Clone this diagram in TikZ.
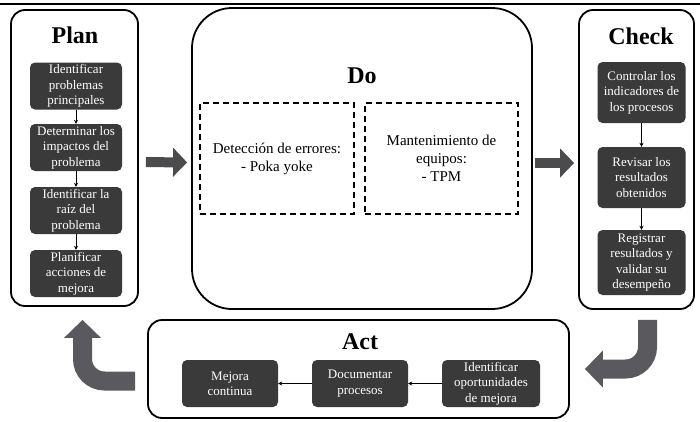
\documentclass[tikz,border=0pt]{standalone}
\usepackage{fontspec}
\setmainfont{Liberation Serif}
\usetikzlibrary{arrows.meta}
\definecolor{boxgray}{HTML}{3A3A3A}
\definecolor{arrowgray}{HTML}{4B4B4D}
\definecolor{bentgray}{HTML}{5A5A5E}

\begin{document}
\begin{tikzpicture}[x=1pt, y=-1pt,
                    phase/.style={draw, line width=1.8pt, rounded corners=14pt},
                    phasetitle/.style={font=\fontsize{24}{28}\selectfont\bfseries},
                    stepbox/.style={fill=boxgray, text=white, rounded corners=5pt, align=center,
                                    inner sep=1pt, font=\fontsize{13}{15.5}\selectfont},
                    dashbox/.style={draw, line width=1.3pt, dash pattern=on 6pt off 4pt,
                                    align=center, font=\fontsize{15}{18}\selectfont},
                    link/.style={line width=0.9pt, -{Stealth[length=4pt,width=4pt]}},
                    bigarrow/.style={arrowgray, line width=10pt,
                                     -{Triangle[length=14pt,width=29pt,line width=0pt]}},
                    bentarrow/.style={bentgray, line width=19pt, rounded corners=22pt,
                                      -{Triangle[length=18pt,width=37pt,line width=0pt]}}]
                \useasboundingbox (0,0) rectangle (700,421);
                \draw [line width=1.2pt] (0,4) -- (700,4);

                \node (plan) [phase, minimum width=127pt, minimum height=296pt] at (74.5,158) {};
                \node (do) [phase, rounded corners=40pt, minimum width=340pt, minimum height=301pt] at (362,158.5) {};
                \node (check) [phase, minimum width=115pt, minimum height=299pt] at (636.5,159.5) {};
                \node (act) [phase, minimum width=421pt, minimum height=98pt] at (358.5,369) {};

                \node (plantitle) [phasetitle] at (75,35) {Plan};
                \node (dotitle) [phasetitle] at (362,76) {Do};
                \node (checktitle) [phasetitle] at (641,36) {Check};
                \node (acttitle) [phasetitle] at (360,342) {Act};

                \node (p1) [stepbox, minimum width=92pt, minimum height=47pt] at (76,86) {Identificar\\problemas\\principales};
                \node (p2) [stepbox, minimum width=92pt, minimum height=47pt] at (76,147.5) {Determinar los\\impactos del\\problema};
                \node (p3) [stepbox, minimum width=92pt, minimum height=47pt] at (76,210.5) {Identificar la\\raíz del\\problema};
                \node (p4) [stepbox, minimum width=92pt, minimum height=47pt] at (76,273.5) {Planificar\\acciones de\\mejora};
                \draw [link] (p1) -- (p2);
                \draw [link] (p2) -- (p3);
                \draw [link] (p3) -- (p4);

                \node (errores) [dashbox, minimum width=154pt, minimum height=111pt] at (277,158.5) {Detección de errores:\\- Poka yoke};
                \node (equipos) [dashbox, minimum width=153pt, minimum height=111pt] at (441.5,158.5) {Mantenimiento de\\equipos:\\- TPM};

                \node (c1) [stepbox, minimum width=88pt, minimum height=61pt] at (641.5,92.5) {Controlar los\\indicadores de\\los procesos};
                \node (c2) [stepbox, minimum width=88pt, minimum height=61pt] at (641.5,177.5) {Revisar los\\resultados\\obtenidos};
                \node (c3) [stepbox, minimum width=88pt, minimum height=65pt] at (641.5,262.5) {Registrar\\resultados y\\validar su\\desempeño};
                \draw [link] (c1) -- (c2);
                \draw [link] (c2) -- (c3);

                \node (a1) [stepbox, minimum width=96pt, minimum height=47pt] at (230,383.5) {Mejora\\continua};
                \node (a2) [stepbox, minimum width=96pt, minimum height=47pt] at (360,383.5) {Documentar\\procesos};
                \node (a3) [stepbox, minimum width=98pt, minimum height=47pt] at (491,383.5) {Identificar\\oportunidades\\de mejora};
                \draw [link] (a3) -- (a2);
                \draw [link] (a2) -- (a1);

                \draw [bigarrow, shorten <=7pt, shorten >=4pt] ([yshift=-4pt]plan.east) -- ([yshift=-4pt]do.west);
                \draw [bigarrow, shorten <=2pt, shorten >=4pt] ([yshift=-4.5pt]do.east) -- ([yshift=-3.5pt]check.west);
                \draw [bentarrow, shorten <=10pt, shorten >=15pt] ([xshift=11pt]check.south) |- (act.east);
                \draw [bentarrow, shorten <=12pt, shorten >=13pt] ([yshift=-12pt]act.west) -| ([xshift=8pt]plan.south);
            \end{tikzpicture}
\end{document}
